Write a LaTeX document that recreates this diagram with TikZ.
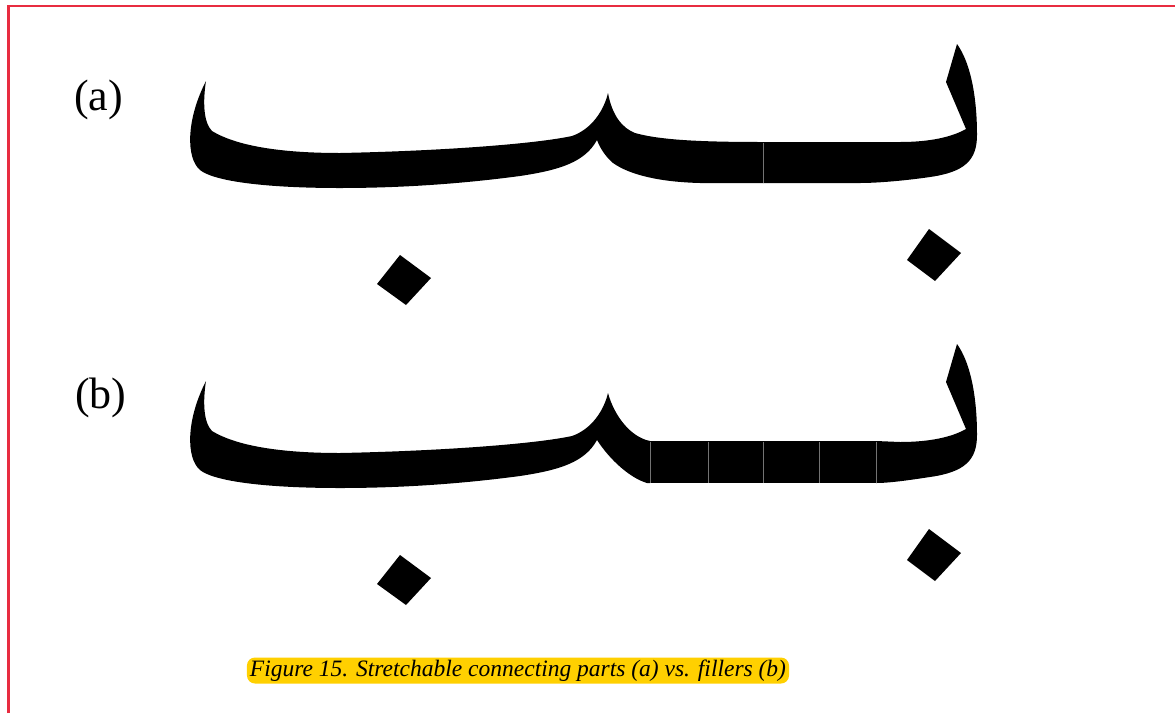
\documentclass[tikz,border=0pt]{standalone}
\usepackage{fontspec}
\setmainfont{Liberation Serif}
\definecolor{frame}{RGB}{232,44,64}
\definecolor{capbg}{RGB}{255,208,0}
\begin{document}
\begin{tikzpicture}[x=1pt,y=-1pt,
  glyph/.style={fill=black,draw=none},
  seam/.style={draw=black!55,line width=0.6pt},
  lab/.style={font=\fontsize{44}{50}\selectfont,inner sep=0pt,anchor=base west},
  captionbox/.style={fill=capbg,rounded corners=8pt,inner xsep=3pt,inner ysep=0pt,minimum height=26pt,
    font=\fontsize{23.5}{26}\selectfont\itshape}]
\useasboundingbox (0,0) rectangle (1175,713);
% frame
\draw[frame,line width=2.4pt] (8.3,713) -- (8.3,6.2) -- (1175,6.2);
% labels
\node[lab] (la) at (74,110) {(a)};
\node[lab] (lb) at (75,408) {(b)};
% ---------- row (a) ----------
\fill[glyph] (206,81) .. controls (203,100) and (203,122) .. (212,131)
  .. controls (240,148) and (290,153) .. (340,153)
  .. controls (440,151) and (535,144) .. (572,136)
  .. controls (592,129) and (604,110) .. (608,93)
  .. controls (612,115) and (622,128) .. (635,133)
  .. controls (660,140) and (700,142) .. (763,142)
  -- (763,183) -- (700,183)
  .. controls (660,182) and (630,175) .. (613,163)
  .. controls (605,156) and (600,148) .. (597,140)
  .. controls (585,162) and (560,170) .. (520,176)
  .. controls (460,184) and (400,188) .. (340,188)
  .. controls (270,188) and (215,182) .. (200,170)
  .. controls (186,158) and (186,120) .. (206,81) -- cycle;
\fill[glyph] (763,142) -- (900,142) .. controls (930,142) and (952,137) .. (966,129)
  -- (946,82) -- (957,44)
  .. controls (970,62) and (977,95) .. (977,135)
  .. controls (977,160) and (965,172) .. (930,177)
  .. controls (910,180) and (880,183) .. (860,183) -- (763,183) -- cycle;
\draw[seam] (763,142.5) -- (763,182.5);
\fill[glyph] (400,255) -- (431,278) -- (406,305) -- (377,284) -- cycle;
\fill[glyph] (929,229) -- (961,253) -- (935,281) -- (907,260) -- cycle;
% ---------- row (b) ----------
\begin{scope}[yshift=-300pt]
\fill[glyph] (206,81) .. controls (203,100) and (203,122) .. (212,131)
  .. controls (240,148) and (290,153) .. (340,153)
  .. controls (440,151) and (535,144) .. (572,136)
  .. controls (592,129) and (604,110) .. (608,93)
  .. controls (614,115) and (630,137) .. (650,141)
  -- (650,183) -- (647,183)
  .. controls (630,178) and (610,160) .. (597,140)
  .. controls (585,162) and (560,170) .. (520,176)
  .. controls (460,184) and (400,188) .. (340,188)
  .. controls (270,188) and (215,182) .. (200,170)
  .. controls (186,158) and (186,120) .. (206,81) -- cycle;
\fill[glyph] (650,141) rectangle (876,183);
\fill[glyph] (876,141) -- (900,142) .. controls (930,142) and (952,137) .. (966,129)
  -- (946,82) -- (957,44)
  .. controls (970,62) and (977,95) .. (977,135)
  .. controls (977,160) and (965,172) .. (930,177)
  .. controls (910,180) and (890,183) .. (876,183) -- cycle;
\foreach \sx in {650,708,763,819,876} {\draw[seam] (\sx,141.5) -- (\sx,182.5);}
\fill[glyph] (400,255) -- (431,278) -- (406,305) -- (377,284) -- cycle;
\fill[glyph] (929,229) -- (961,253) -- (935,281) -- (907,260) -- cycle;
\end{scope}
% caption
\node[captionbox] (caption) at (518,670.5) {Figure 15. Stretchable connecting parts (a) vs. fillers (b)};
\end{tikzpicture}
\end{document}
